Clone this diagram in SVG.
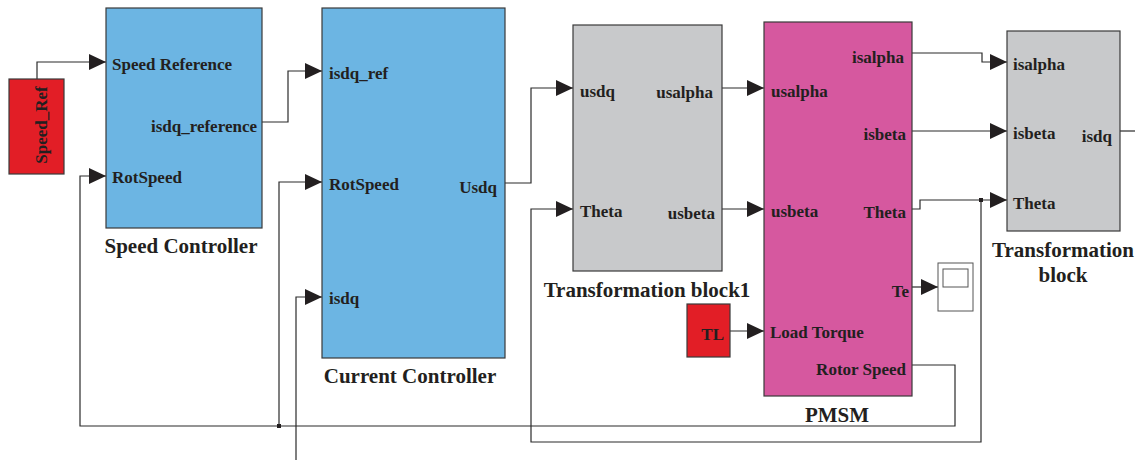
<svg xmlns="http://www.w3.org/2000/svg" width="1135" height="460" viewBox="0 0 1135 460">
<style>
text{font-family:"Liberation Serif","Times New Roman",serif;font-weight:bold;fill:#231f20;font-size:17px}
.t{font-size:21px}
.e{text-anchor:end}
.m{text-anchor:middle}
.blk{stroke:#3a3a3a;stroke-width:1.2}
.blue{fill:#6cb5e3}
.grey{fill:#c8c9cb}
.pink{fill:#d6589f}
.red{fill:#e21e26}
.w{fill:none;stroke:#2b2b2b;stroke-width:1.2}
</style>
<defs>
<marker id="ar" markerUnits="userSpaceOnUse" markerWidth="17" markerHeight="16" refX="17" refY="8" orient="auto">
<path d="M0,0 L17,8 L0,16 z" fill="#231f20"/>
</marker>
</defs>
<g id="connectors">
<path class="w" d="M37,79 V62 H106" marker-end="url(#ar)"/>
<path class="w" d="M262,122 H288 V71 H322" marker-end="url(#ar)"/>
<path class="w" d="M505,183 H531 V88 H573" marker-end="url(#ar)"/>
<path class="w" d="M722,88 H764" marker-end="url(#ar)"/>
<path class="w" d="M722,209 H764" marker-end="url(#ar)"/>
<path class="w" d="M730,331 H764" marker-end="url(#ar)"/>
<path class="w" d="M912,287 H938" marker-end="url(#ar)"/>
<path class="w" d="M912,53 H982 V62 H1007" marker-end="url(#ar)"/>
<path class="w" d="M912,131 H1007" marker-end="url(#ar)"/>
<path class="w" d="M912,209 H920 V200 H1007" marker-end="url(#ar)"/>
<path class="w" d="M981,200 V442 H531 V209 H573" marker-end="url(#ar)"/>
<path class="w" d="M912,365 H955 V426 H80 V176 H106" marker-end="url(#ar)"/>
<path class="w" d="M279,426 V182 H322" marker-end="url(#ar)"/>
<path class="w" d="M296,460 V297 H322" marker-end="url(#ar)"/>
<path class="w" d="M1120,131 H1135"/>
<rect x="277" y="424" width="4" height="4" fill="#231f20"/>
<rect x="979" y="198" width="4" height="4" fill="#231f20"/>
</g>
<g id="speed_ref">
<rect class="blk red" x="9" y="79" width="55" height="95"/>
<text class="m" transform="translate(47,125) rotate(-90)">Speed_Ref</text>
</g>
<g id="speed_controller">
<rect class="blk blue" x="106" y="8" width="156" height="220"/>
<text x="112" y="70">Speed Reference</text>
<text class="e" x="257" y="132">isdq_reference</text>
<text x="112" y="183">RotSpeed</text>
<text class="t m" x="181" y="253">Speed Controller</text>
</g>
<g id="current_controller">
<rect class="blk blue" x="322" y="8" width="183" height="350"/>
<text x="329" y="79">isdq_ref</text>
<text x="329" y="190">RotSpeed</text>
<text class="e" x="497" y="193">Usdq</text>
<text x="329" y="304">isdq</text>
<text class="t m" x="410" y="383">Current Controller</text>
</g>
<g id="transformation_block1">
<rect class="blk grey" x="573" y="25" width="149" height="246"/>
<text x="580" y="97">usdq</text>
<text class="e" x="713" y="98">usalpha</text>
<text x="580" y="217">Theta</text>
<text class="e" x="715" y="219">usbeta</text>
<text class="t m" x="647" y="297">Transformation block1</text>
</g>
<g id="pmsm">
<rect class="blk pink" x="764" y="22" width="148" height="374"/>
<text x="771" y="97">usalpha</text>
<text x="771" y="217">usbeta</text>
<text class="e" x="904" y="63">isalpha</text>
<text class="e" x="906" y="140">isbeta</text>
<text class="e" x="906" y="218">Theta</text>
<text class="e" x="909" y="297">Te</text>
<text x="770" y="338">Load Torque</text>
<text class="e" x="906" y="375">Rotor Speed</text>
<text class="t m" x="837" y="422">PMSM</text>
</g>
<g id="tl">
<rect class="blk red" x="687" y="304" width="43" height="53"/>
<text class="e" x="724" y="340">TL</text>
</g>
<g id="scope">
<rect x="938" y="263" width="35" height="48" fill="#fff" stroke="#555" stroke-width="1"/>
<rect x="943" y="269" width="25" height="18" fill="#fff" stroke="#555" stroke-width="1"/>
</g>
<g id="transformation_block">
<rect class="blk grey" x="1007" y="31" width="113" height="200"/>
<text x="1013" y="70">isalpha</text>
<text x="1013" y="139">isbeta</text>
<text class="e" x="1112" y="142">isdq</text>
<text x="1013" y="209">Theta</text>
<text class="t m" x="1063" y="257">Transformation</text>
<text class="t m" x="1063" y="282">block</text>
</g>
</svg>
